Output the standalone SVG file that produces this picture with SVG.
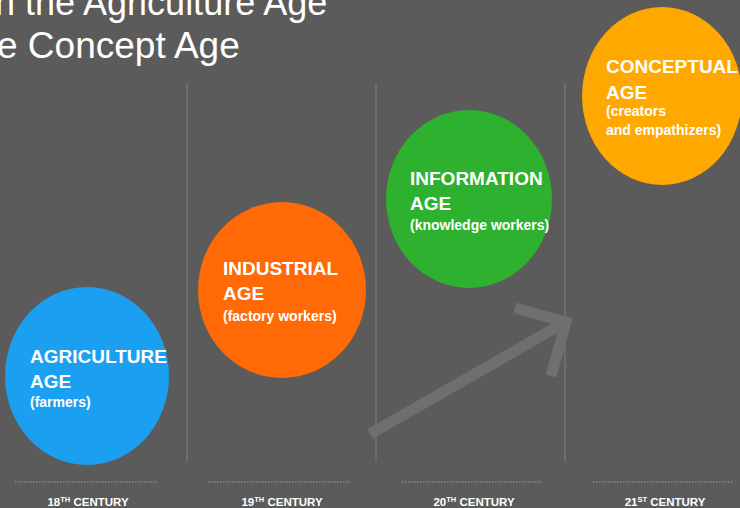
<svg xmlns="http://www.w3.org/2000/svg" width="740" height="508" viewBox="0 0 740 508">
<style>
.title{font-family:"Liberation Sans",Arial,sans-serif;font-size:36px;fill:#ffffff}
.head{font-family:"Liberation Sans",Arial,sans-serif;font-size:19px;font-weight:bold;fill:#ffffff}
.sub{font-family:"Liberation Sans",Arial,sans-serif;font-size:14px;font-weight:bold;fill:#ffffff}
.cent{font-family:"Liberation Sans",Arial,sans-serif;font-size:11.5px;font-weight:bold;fill:#ffffff;text-anchor:middle}
.sup{font-size:7.5px}
.vline{stroke:#737373;stroke-width:1.5}
.dots{stroke:#a0a0a0;stroke-width:1.2;stroke-dasharray:1.5 1.5}
.arrow{stroke:#6f6f6f;stroke-width:11;fill:none;stroke-linecap:butt;stroke-linejoin:miter}
</style>
<rect x="0" y="0" width="740" height="508" fill="#5b5b5b"/>
<g id="title">
<text class="title" x="-5" y="15">n the Agriculture Age</text>
<text class="title" x="-3" y="58" style="font-size:37px">e Concept Age</text>
</g>
<g id="dividers">
<line class="vline" x1="187" y1="83" x2="187" y2="462"/>
<line class="vline" x1="376" y1="83" x2="376" y2="462"/>
<line class="vline" x1="565" y1="83" x2="565" y2="462"/>
<line class="dots" x1="15" y1="482" x2="157" y2="482"/>
<line class="dots" x1="208" y1="482" x2="350" y2="482"/>
<line class="dots" x1="402" y1="482" x2="542" y2="482"/>
<line class="dots" x1="593" y1="482" x2="733" y2="482"/>
</g>
<g id="connectors">
<line class="arrow" x1="370" y1="434" x2="562" y2="324"/>
<polyline class="arrow" points="515,308 566,322 551,376"/>
</g>
<g id="agriculture">
<ellipse cx="87" cy="376" rx="82" ry="89" fill="#1b9ff0"/>
<text class="head" x="30" y="363">AGRICULTURE</text>
<text class="head" x="30" y="388">AGE</text>
<text class="sub" x="30" y="407">(farmers)</text>
</g>
<g id="industrial">
<ellipse cx="282" cy="290" rx="84" ry="88" fill="#ff6a06"/>
<text class="head" x="223" y="275">INDUSTRIAL</text>
<text class="head" x="223" y="300">AGE</text>
<text class="sub" x="223" y="321">(factory workers)</text>
</g>
<g id="information">
<ellipse cx="469" cy="199" rx="83" ry="89" fill="#2eb12e"/>
<text class="head" x="410" y="185">INFORMATION</text>
<text class="head" x="410" y="210">AGE</text>
<text class="sub" x="410" y="230">(knowledge workers)</text>
</g>
<g id="conceptual">
<ellipse cx="662" cy="96" rx="80" ry="89" fill="#ffa800"/>
<text class="head" x="606" y="73">CONCEPTUAL</text>
<text class="head" x="606" y="99">AGE</text>
<text class="sub" x="606" y="116">(creators</text>
<text class="sub" x="606" y="135">and empathizers)</text>
</g>
<g id="centuries">
<text class="cent" x="88" y="506">18<tspan class="sup" dy="-4">TH</tspan><tspan dy="4"> CENTURY</tspan></text>
<text class="cent" x="282" y="506">19<tspan class="sup" dy="-4">TH</tspan><tspan dy="4"> CENTURY</tspan></text>
<text class="cent" x="474" y="506">20<tspan class="sup" dy="-4">TH</tspan><tspan dy="4"> CENTURY</tspan></text>
<text class="cent" x="665" y="506">21<tspan class="sup" dy="-4">ST</tspan><tspan dy="4"> CENTURY</tspan></text>
</g>
</svg>
